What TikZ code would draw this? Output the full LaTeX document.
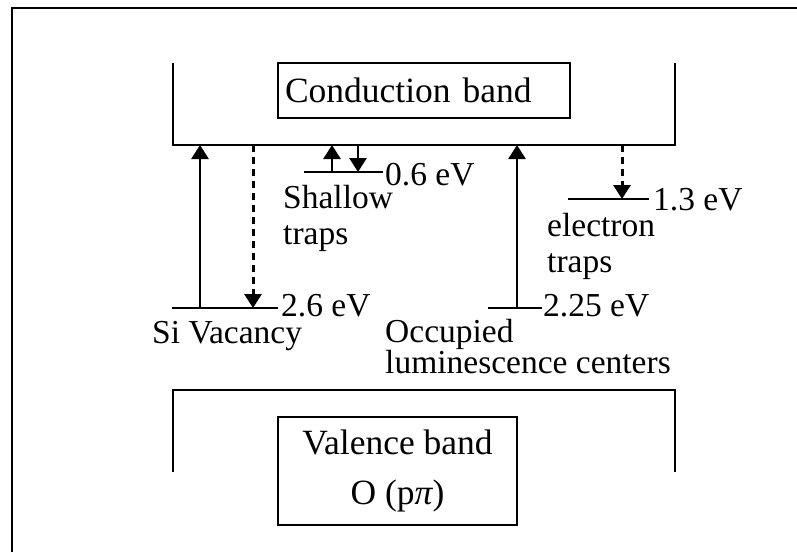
\documentclass[tikz,border=0pt]{standalone}
\usepackage{fontspec}
\setmainfont{Liberation Serif}
\usetikzlibrary{arrows.meta, positioning, calc}

\tikzset{
    lbl/.style={font=\fontsize{33.5}{40}\selectfont, inner sep=0pt, anchor=base west},
    bandbox/.style={draw, line width=2.8pt, font=\fontsize{35.5}{51}\selectfont, inner sep=0pt},
    edge/.style={line width=2.8pt},
    lvl/.style={line width=2.8pt},
    excite/.style={line width=2.8pt, -{Triangle[width=17pt,length=14pt]}},
    relax/.style={line width=3pt, dash pattern=on 7pt off 5pt, -{Triangle[width=17pt,length=14pt]}},
}

\begin{document}
\begin{tikzpicture}[x=1pt, y=-1pt]
    \useasboundingbox (0,0) rectangle (797,552);
    \draw[edge] (12,552) -- (12,8) -- (797,8);

    % Bander
    \draw[edge] (173,63) -- (173,145) coordinate (cbL) -- (675,145) coordinate (cbR) -- (675,63);
    \draw[edge] (173,472) -- (173,390) coordinate (vbL) -- (675,390) coordinate (vbR) -- (675,472);
    \node[bandbox, minimum height=55pt, text width=278pt, inner xsep=7pt, align=left] (cb) at (424,90.5) {Conduction band};
    \node[bandbox, minimum width=239pt, minimum height=108pt, align=center] (vb) at (397.5,471) {Valence band\\[-1pt]O (p{\itshape π})};

    % Nivaaer
    \draw[lvl] (172,308) coordinate (svA) -- (278,308) coordinate (svB);
    \draw[lvl] (304,172) coordinate (stA) -- (383,172) coordinate (stB);
    \draw[lvl] (568,199) coordinate (etA) -- (649,199) coordinate (etB);
    \draw[lvl] (488,308) coordinate (lcA) -- (542,308) coordinate (lcB);

    % Overganger
    \coordinate (sv1) at (200,308);
    \coordinate (sv2) at (253,308);
    \coordinate (st1) at (332,172);
    \coordinate (st2) at (358,172);
    \coordinate (et1) at (622,199);
    \coordinate (lc1) at (517,308);
    \draw[excite] (sv1) -- (sv1 |- cbL);
    \draw[relax] (sv2 |- cbL) -- (sv2);
    \draw[excite] (st1) -- (st1 |- cbL);
    \draw[excite] (st2 |- cbL) -- (st2);
    \draw[relax] (et1 |- cbL) -- (et1);
    \draw[excite] (lc1) -- (lc1 |- cbL);

    % Tekst
    \node[lbl] (stE) at (385,185) {0.6 eV};
    \node[lbl] (stN) at (283,208) {Shallow};
    \node[lbl] (stN2) at (283,244) {traps};
    \node[lbl] (etE) at (653,210) {1.3 eV};
    \node[lbl] (etN) at (547,236) {electron};
    \node[lbl] (etN2) at (547,272) {traps};
    \node[lbl] (svE) at (281,316) {2.6 eV};
    \node[lbl] (svN) at (152,343) {Si Vacancy};
    \node[lbl] (lcE) at (543,316) {2.25 eV};
    \node[lbl] (lcN) at (385,342) {Occupied};
    \node[lbl] (lcN2) at (385,373) {luminescence centers};
\end{tikzpicture}
\end{document}
